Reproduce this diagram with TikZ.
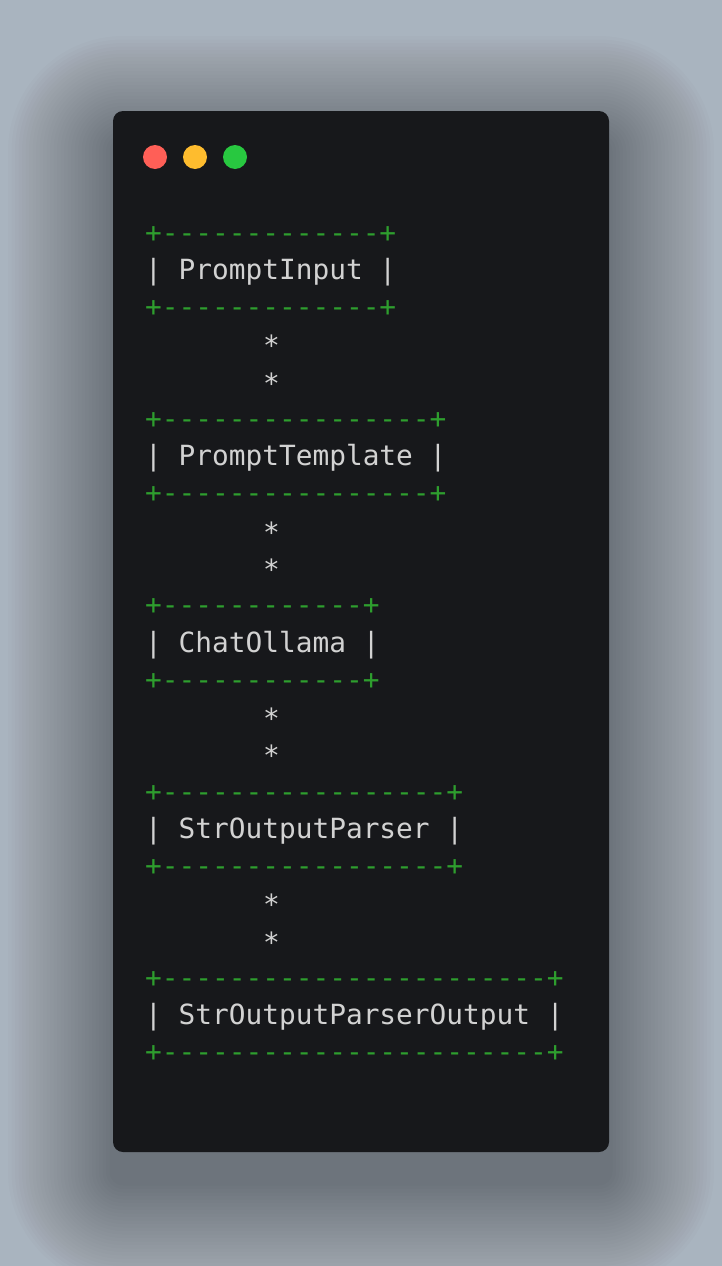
\documentclass[tikz,border=0pt]{standalone}
\usepackage{fontspec}
\newfontfamily\codefont[Ligatures=TeXOff]{DejaVu Sans Mono}

\definecolor{bgcol}{HTML}{A9B4BF}
\definecolor{wincol}{HTML}{17181B}
\definecolor{edgecol}{HTML}{2E9E2E}
\definecolor{txtcol}{HTML}{D2D2D2}
\definecolor{dotred}{HTML}{FF5F57}
\definecolor{dotyel}{HTML}{FEBC2E}
\definecolor{dotgrn}{HTML}{28C840}

\tikzset{
  ascii/.style={inner sep=0pt, anchor=base west, font=\codefont\fontsize{27.8}{37}\selectfont},
  edgerow/.style={ascii, text=edgecol},
  namerow/.style={ascii, text=txtcol},
  starrow/.style={ascii, text=txtcol},
  dot/.style={circle, minimum size=24pt, inner sep=0pt}
}

\begin{document}
\begin{tikzpicture}[x=1pt, y=-1pt]
	\useasboundingbox (0,0) rectangle (722,1266);
	\fill [bgcol] (0,0) rectangle (722,1266);
	% soft shadow under the window
	\foreach \s in {1,...,30}
		\fill [black, opacity=0.011, rounded corners=10+\s*3.5] (113-\s*3.5,141-\s*3.5) rectangle (609+\s*3.5,1182+\s*3.5);
	\fill [wincol, rounded corners=10] (113,111) rectangle (609,1152);
	\node [dot, fill=dotred] (red) at (155,157) {};
	\node [dot, fill=dotyel] (yellow) at (195,157) {};
	\node [dot, fill=dotgrn] (green) at (235,157) {};

	% PromptInput
	\node [edgerow] (inTop) at (145,242) {+-------------+};
	\node [namerow] (inName) at (145,279.3) {| PromptInput |};
	\node [edgerow] (inBot) at (145,316.5) {+-------------+};
	\node [starrow] (s1) at (263,355.8) {*};
	\node [starrow] (s2) at (263,393.1) {*};
	% PromptTemplate
	\node [edgerow] (tplTop) at (145,428.4) {+----------------+};
	\node [namerow] (tplName) at (145,465.6) {| PromptTemplate |};
	\node [edgerow] (tplBot) at (145,502.9) {+----------------+};
	\node [starrow] (s3) at (263,542.2) {*};
	\node [starrow] (s4) at (263,579.4) {*};
	% ChatOllama
	\node [edgerow] (llmTop) at (145,614.7) {+------------+};
	\node [namerow] (llmName) at (145,652) {| ChatOllama |};
	\node [edgerow] (llmBot) at (145,689.2) {+------------+};
	\node [starrow] (s5) at (263,728.5) {*};
	\node [starrow] (s6) at (263,765.8) {*};
	% StrOutputParser
	\node [edgerow] (prsTop) at (145,801.1) {+-----------------+};
	\node [namerow] (prsName) at (145,838.3) {| StrOutputParser |};
	\node [edgerow] (prsBot) at (145,875.6) {+-----------------+};
	\node [starrow] (s7) at (263,914.9) {*};
	\node [starrow] (s8) at (263,952.1) {*};
	% StrOutputParserOutput
	\node [edgerow] (outTop) at (145,987.4) {+-----------------------+};
	\node [namerow] (outName) at (145,1024.7) {| StrOutputParserOutput |};
	\node [edgerow] (outBot) at (145,1061.9) {+-----------------------+};
\end{tikzpicture}
\end{document}
